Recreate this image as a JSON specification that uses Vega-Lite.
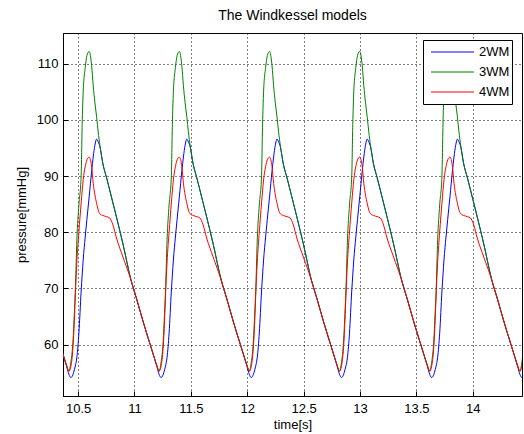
{
"$schema": "https://vega.github.io/schema/vega-lite/v6.json",
"width": 459, "height": 363,
"autosize": {"type": "none"},
"padding": {"left": 63, "top": 33, "right": 2, "bottom": 38},
"background": "white",
"title": {"text": "The Windkessel models", "fontSize": 14, "font": "Liberation Sans", "fontWeight": "normal", "color": "#000", "offset": -1, "baseline": "alphabetic", "anchor": "middle", "frame": "group"},
"data": {"values": [
{"t":10.338,"2WM":60.09,"3WM":60.09,"4WM":60.09},
{"t":10.374,"2WM":57.77,"3WM":57.77,"4WM":57.77},
{"t":10.400,"2WM":55.99,"3WM":56.17,"4WM":56.17},
{"t":10.418,"2WM":54.74,"3WM":55.28,"4WM":55.28},
{"t":10.436,"2WM":54.15,"3WM":56.88,"4WM":56.17},
{"t":10.454,"2WM":54.65,"3WM":60.45,"4WM":59.38},
{"t":10.467,"2WM":55.54,"3WM":65.79,"4WM":64.37},
{"t":10.475,"2WM":56.17,"3WM":69.36,"4WM":68.65},
{"t":10.489,"2WM":57.77,"3WM":78.63,"4WM":74.71},
{"t":10.507,"2WM":62.05,"3WM":84.87,"4WM":80.05},
{"t":10.527,"2WM":69.54,"3WM":90.04,"4WM":85.22},
{"t":10.536,"2WM":72.39,"3WM":99.13,"4WM":87.36},
{"t":10.545,"2WM":75.06,"3WM":105.01,"4WM":89.32},
{"t":10.563,"2WM":79.16,"3WM":109.29,"4WM":91.69},
{"t":10.578,"2WM":82.3,"3WM":111.43,"4WM":92.89},
{"t":10.598,"2WM":86.3,"3WM":112.19,"4WM":93.37},
{"t":10.620,"2WM":90.9,"3WM":109.64,"4WM":91.69},
{"t":10.634,"2WM":93.4,"3WM":106.08,"4WM":88.73},
{"t":10.649,"2WM":95.5,"3WM":103.05,"4WM":86.65},
{"t":10.664,"2WM":96.58,"3WM":100.55,"4WM":85.17},
{"t":10.678,"2WM":96.10,"3WM":97.88,"4WM":83.98},
{"t":10.694,"2WM":95.20,"3WM":95.38,"4WM":83.26},
{"t":10.720,"2WM":92.17,"3WM":92.17,"4WM":82.99},
{"t":10.753,"2WM":89.68,"3WM":89.68,"4WM":82.78},
{"t":10.780,"2WM":87.54,"3WM":87.54,"4WM":82.55},
{"t":10.809,"2WM":85.22,"3WM":85.22,"4WM":81.30},
{"t":10.840,"2WM":82.73,"3WM":82.73,"4WM":78.98},
{"t":10.898,"2WM":77.91,"3WM":77.91,"4WM":75.60},
{"t":10.969,"2WM":71.50,"3WM":71.50,"4WM":71.50},
{"t":11.022,"2WM":67.93,"3WM":67.93,"4WM":67.93},
{"t":11.078,"2WM":64.01,"3WM":64.01,"4WM":64.01},
{"t":11.138,"2WM":60.09,"3WM":60.09,"4WM":60.09},
{"t":11.174,"2WM":57.77,"3WM":57.77,"4WM":57.77},
{"t":11.200,"2WM":55.99,"3WM":56.17,"4WM":56.17},
{"t":11.218,"2WM":54.74,"3WM":55.28,"4WM":55.28},
{"t":11.236,"2WM":54.15,"3WM":56.88,"4WM":56.17},
{"t":11.254,"2WM":54.65,"3WM":60.45,"4WM":59.38},
{"t":11.267,"2WM":55.54,"3WM":65.79,"4WM":64.37},
{"t":11.275,"2WM":56.17,"3WM":69.36,"4WM":68.65},
{"t":11.289,"2WM":57.77,"3WM":78.63,"4WM":74.71},
{"t":11.307,"2WM":62.05,"3WM":84.87,"4WM":80.05},
{"t":11.327,"2WM":69.54,"3WM":90.04,"4WM":85.22},
{"t":11.336,"2WM":72.39,"3WM":99.13,"4WM":87.36},
{"t":11.345,"2WM":75.06,"3WM":105.01,"4WM":89.32},
{"t":11.363,"2WM":79.16,"3WM":109.29,"4WM":91.69},
{"t":11.378,"2WM":82.3,"3WM":111.43,"4WM":92.89},
{"t":11.398,"2WM":86.3,"3WM":112.19,"4WM":93.37},
{"t":11.420,"2WM":90.9,"3WM":109.64,"4WM":91.69},
{"t":11.434,"2WM":93.4,"3WM":106.08,"4WM":88.73},
{"t":11.449,"2WM":95.5,"3WM":103.05,"4WM":86.65},
{"t":11.464,"2WM":96.58,"3WM":100.55,"4WM":85.17},
{"t":11.478,"2WM":96.10,"3WM":97.88,"4WM":83.98},
{"t":11.494,"2WM":95.20,"3WM":95.38,"4WM":83.26},
{"t":11.520,"2WM":92.17,"3WM":92.17,"4WM":82.99},
{"t":11.553,"2WM":89.68,"3WM":89.68,"4WM":82.78},
{"t":11.580,"2WM":87.54,"3WM":87.54,"4WM":82.55},
{"t":11.609,"2WM":85.22,"3WM":85.22,"4WM":81.30},
{"t":11.640,"2WM":82.73,"3WM":82.73,"4WM":78.98},
{"t":11.698,"2WM":77.91,"3WM":77.91,"4WM":75.60},
{"t":11.769,"2WM":71.50,"3WM":71.50,"4WM":71.50},
{"t":11.822,"2WM":67.93,"3WM":67.93,"4WM":67.93},
{"t":11.878,"2WM":64.01,"3WM":64.01,"4WM":64.01},
{"t":11.938,"2WM":60.09,"3WM":60.09,"4WM":60.09},
{"t":11.974,"2WM":57.77,"3WM":57.77,"4WM":57.77},
{"t":12.000,"2WM":55.99,"3WM":56.17,"4WM":56.17},
{"t":12.018,"2WM":54.74,"3WM":55.28,"4WM":55.28},
{"t":12.036,"2WM":54.15,"3WM":56.88,"4WM":56.17},
{"t":12.054,"2WM":54.65,"3WM":60.45,"4WM":59.38},
{"t":12.067,"2WM":55.54,"3WM":65.79,"4WM":64.37},
{"t":12.075,"2WM":56.17,"3WM":69.36,"4WM":68.65},
{"t":12.089,"2WM":57.77,"3WM":78.63,"4WM":74.71},
{"t":12.107,"2WM":62.05,"3WM":84.87,"4WM":80.05},
{"t":12.127,"2WM":69.54,"3WM":90.04,"4WM":85.22},
{"t":12.136,"2WM":72.39,"3WM":99.13,"4WM":87.36},
{"t":12.145,"2WM":75.06,"3WM":105.01,"4WM":89.32},
{"t":12.163,"2WM":79.16,"3WM":109.29,"4WM":91.69},
{"t":12.178,"2WM":82.3,"3WM":111.43,"4WM":92.89},
{"t":12.198,"2WM":86.3,"3WM":112.19,"4WM":93.37},
{"t":12.220,"2WM":90.9,"3WM":109.64,"4WM":91.69},
{"t":12.234,"2WM":93.4,"3WM":106.08,"4WM":88.73},
{"t":12.249,"2WM":95.5,"3WM":103.05,"4WM":86.65},
{"t":12.264,"2WM":96.58,"3WM":100.55,"4WM":85.17},
{"t":12.278,"2WM":96.10,"3WM":97.88,"4WM":83.98},
{"t":12.294,"2WM":95.20,"3WM":95.38,"4WM":83.26},
{"t":12.320,"2WM":92.17,"3WM":92.17,"4WM":82.99},
{"t":12.353,"2WM":89.68,"3WM":89.68,"4WM":82.78},
{"t":12.380,"2WM":87.54,"3WM":87.54,"4WM":82.55},
{"t":12.409,"2WM":85.22,"3WM":85.22,"4WM":81.30},
{"t":12.440,"2WM":82.73,"3WM":82.73,"4WM":78.98},
{"t":12.498,"2WM":77.91,"3WM":77.91,"4WM":75.60},
{"t":12.569,"2WM":71.50,"3WM":71.50,"4WM":71.50},
{"t":12.622,"2WM":67.93,"3WM":67.93,"4WM":67.93},
{"t":12.678,"2WM":64.01,"3WM":64.01,"4WM":64.01},
{"t":12.738,"2WM":60.09,"3WM":60.09,"4WM":60.09},
{"t":12.774,"2WM":57.77,"3WM":57.77,"4WM":57.77},
{"t":12.800,"2WM":55.99,"3WM":56.17,"4WM":56.17},
{"t":12.818,"2WM":54.74,"3WM":55.28,"4WM":55.28},
{"t":12.836,"2WM":54.15,"3WM":56.88,"4WM":56.17},
{"t":12.854,"2WM":54.65,"3WM":60.45,"4WM":59.38},
{"t":12.867,"2WM":55.54,"3WM":65.79,"4WM":64.37},
{"t":12.875,"2WM":56.17,"3WM":69.36,"4WM":68.65},
{"t":12.889,"2WM":57.77,"3WM":78.63,"4WM":74.71},
{"t":12.907,"2WM":62.05,"3WM":84.87,"4WM":80.05},
{"t":12.927,"2WM":69.54,"3WM":90.04,"4WM":85.22},
{"t":12.936,"2WM":72.39,"3WM":99.13,"4WM":87.36},
{"t":12.945,"2WM":75.06,"3WM":105.01,"4WM":89.32},
{"t":12.963,"2WM":79.16,"3WM":109.29,"4WM":91.69},
{"t":12.978,"2WM":82.3,"3WM":111.43,"4WM":92.89},
{"t":12.998,"2WM":86.3,"3WM":112.19,"4WM":93.37},
{"t":13.020,"2WM":90.9,"3WM":109.64,"4WM":91.69},
{"t":13.034,"2WM":93.4,"3WM":106.08,"4WM":88.73},
{"t":13.049,"2WM":95.5,"3WM":103.05,"4WM":86.65},
{"t":13.064,"2WM":96.58,"3WM":100.55,"4WM":85.17},
{"t":13.078,"2WM":96.10,"3WM":97.88,"4WM":83.98},
{"t":13.094,"2WM":95.20,"3WM":95.38,"4WM":83.26},
{"t":13.120,"2WM":92.17,"3WM":92.17,"4WM":82.99},
{"t":13.153,"2WM":89.68,"3WM":89.68,"4WM":82.78},
{"t":13.180,"2WM":87.54,"3WM":87.54,"4WM":82.55},
{"t":13.209,"2WM":85.22,"3WM":85.22,"4WM":81.30},
{"t":13.240,"2WM":82.73,"3WM":82.73,"4WM":78.98},
{"t":13.298,"2WM":77.91,"3WM":77.91,"4WM":75.60},
{"t":13.369,"2WM":71.50,"3WM":71.50,"4WM":71.50},
{"t":13.422,"2WM":67.93,"3WM":67.93,"4WM":67.93},
{"t":13.478,"2WM":64.01,"3WM":64.01,"4WM":64.01},
{"t":13.538,"2WM":60.09,"3WM":60.09,"4WM":60.09},
{"t":13.574,"2WM":57.77,"3WM":57.77,"4WM":57.77},
{"t":13.600,"2WM":55.99,"3WM":56.17,"4WM":56.17},
{"t":13.618,"2WM":54.74,"3WM":55.28,"4WM":55.28},
{"t":13.636,"2WM":54.15,"3WM":56.88,"4WM":56.17},
{"t":13.654,"2WM":54.65,"3WM":60.45,"4WM":59.38},
{"t":13.667,"2WM":55.54,"3WM":65.79,"4WM":64.37},
{"t":13.675,"2WM":56.17,"3WM":69.36,"4WM":68.65},
{"t":13.689,"2WM":57.77,"3WM":78.63,"4WM":74.71},
{"t":13.707,"2WM":62.05,"3WM":84.87,"4WM":80.05},
{"t":13.727,"2WM":69.54,"3WM":90.04,"4WM":85.22},
{"t":13.736,"2WM":72.39,"3WM":99.13,"4WM":87.36},
{"t":13.745,"2WM":75.06,"3WM":105.01,"4WM":89.32},
{"t":13.763,"2WM":79.16,"3WM":109.29,"4WM":91.69},
{"t":13.778,"2WM":82.3,"3WM":111.43,"4WM":92.89},
{"t":13.798,"2WM":86.3,"3WM":112.19,"4WM":93.37},
{"t":13.820,"2WM":90.9,"3WM":109.64,"4WM":91.69},
{"t":13.834,"2WM":93.4,"3WM":106.08,"4WM":88.73},
{"t":13.849,"2WM":95.5,"3WM":103.05,"4WM":86.65},
{"t":13.864,"2WM":96.58,"3WM":100.55,"4WM":85.17},
{"t":13.878,"2WM":96.10,"3WM":97.88,"4WM":83.98},
{"t":13.894,"2WM":95.20,"3WM":95.38,"4WM":83.26},
{"t":13.920,"2WM":92.17,"3WM":92.17,"4WM":82.99},
{"t":13.953,"2WM":89.68,"3WM":89.68,"4WM":82.78},
{"t":13.980,"2WM":87.54,"3WM":87.54,"4WM":82.55},
{"t":14.009,"2WM":85.22,"3WM":85.22,"4WM":81.30},
{"t":14.040,"2WM":82.73,"3WM":82.73,"4WM":78.98},
{"t":14.098,"2WM":77.91,"3WM":77.91,"4WM":75.60},
{"t":14.169,"2WM":71.50,"3WM":71.50,"4WM":71.50},
{"t":14.222,"2WM":67.93,"3WM":67.93,"4WM":67.93},
{"t":14.278,"2WM":64.01,"3WM":64.01,"4WM":64.01},
{"t":14.338,"2WM":60.09,"3WM":60.09,"4WM":60.09},
{"t":14.374,"2WM":57.77,"3WM":57.77,"4WM":57.77},
{"t":14.400,"2WM":55.99,"3WM":56.17,"4WM":56.17},
{"t":14.418,"2WM":54.74,"3WM":55.28,"4WM":55.28},
{"t":14.436,"2WM":54.15,"3WM":56.88,"4WM":56.17},
{"t":14.454,"2WM":54.65,"3WM":60.45,"4WM":59.38},
{"t":14.467,"2WM":55.54,"3WM":65.79,"4WM":64.37}
]},
"transform": [{"fold": ["2WM", "3WM", "4WM"], "as": ["model", "p"]}],
"mark": {"type": "line", "strokeWidth": 1, "clip": true, "interpolate": "monotone"},
"encoding": {
  "x": {"field": "t", "type": "quantitative", "scale": {"domain": [10.366, 14.437], "nice": false, "zero": false},
        "axis": {"values": [10.5, 11, 11.5, 12, 12.5, 13, 13.5, 14], "format": "~g", "title": "time[s]"}},
  "y": {"field": "p", "type": "quantitative", "scale": {"domain": [50.86, 115.47], "nice": false, "zero": false},
        "axis": {"values": [60, 70, 80, 90, 100, 110], "title": "pressure[mmHg]"}},
  "color": {"field": "model", "type": "nominal",
            "scale": {"domain": ["2WM", "3WM", "4WM"], "range": ["#0000ff", "#008000", "#ff0000"]},
            "legend": {"title": null, "orient": "none", "legendX": 360, "legendY": 7, "padding": 2,
                       "strokeColor": "#000", "fillColor": "#fff", "symbolType": "stroke",
                       "symbolSize": 1849, "symbolStrokeWidth": 1, "symbolOffset": 5.5, "labelOffset": 4.5,
                       "clipHeight": 20, "rowPadding": 0, "labelFont": "Liberation Sans", "labelFontSize": 13, "labelColor": "#000",
                       "labelBaseline": "middle"}}
},
"config": {
  "view": {"stroke": "#000", "strokeWidth": 1},
  "axis": {"labelFont": "Liberation Sans", "labelFontSize": 13, "labelColor": "#000",
           "titleFont": "Liberation Sans", "titleFontSize": 13, "titleFontWeight": "normal", "titleColor": "#000",
           "domainColor": "#000", "tickColor": "#000", "tickSize": -5,
           "gridColor": "#000", "gridDash": [1, 3], "gridOpacity": 1, "gridWidth": 1},
  "axisX": {"labelPadding": 11, "titlePadding": 3},
  "axisY": {"labelPadding": 10, "titlePadding": 8}
}
}
